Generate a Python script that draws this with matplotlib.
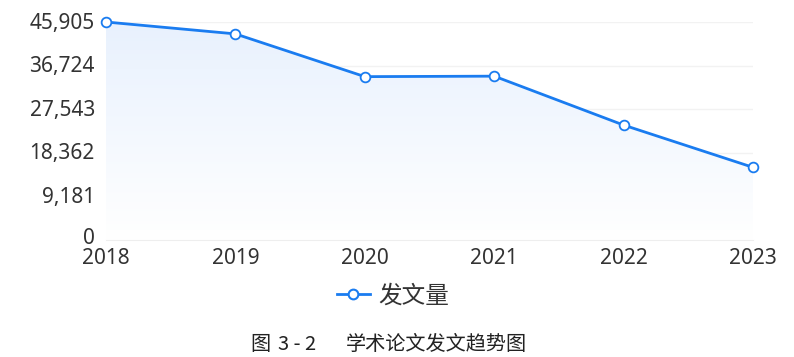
import matplotlib
matplotlib.use("Agg")
import matplotlib.pyplot as plt
import matplotlib.transforms as mtransforms
import numpy as np
from matplotlib.lines import Line2D

plt.rcParams['font.family'] = ['Noto Sans CJK SC', 'DejaVu Sans']

years = ["2018", "2019", "2020", "2021", "2022", "2023"]
papers = [45905, 43400, 34400, 34500, 24200, 15300]
y_ticks = [0, 9181, 18362, 27543, 36724, 45905]
y_tick_labels = ["0", "9,181", "18,362", "27,543", "36,724", "45,905"]

line_color = "#1a7cf0"
text_color = "#333333"

fig = plt.figure(figsize=(7.94, 3.57), dpi=100)
ax = fig.add_axes([106/794, 1 - 240/357, (753 - 106)/794, (240 - 22)/357])

x = np.arange(len(years))

# gradient area under the line: pale blue at the top fading to white
poly = ax.fill_between(x, papers, 0, color="none", lw=0)
top_rgb = np.array([0.91, 0.945, 0.995])
t = np.linspace(1, 0, 256)[:, None, None]
img = (1 - t) * np.array([1.0, 1.0, 1.0]) + t * top_rgb
im = ax.imshow(img, aspect="auto", extent=[x[0], x[-1], 0, max(papers)],
               origin="upper", zorder=1)
im.set_clip_path(poly.get_paths()[0], transform=ax.transData)

ax.plot(x, papers, color=line_color, lw=2.0, marker="o", ms=7,
        mfc="white", mec=line_color, mew=1.3, zorder=3, clip_on=False)

ax.set_xlim(x[0], x[-1])
ax.set_ylim(0, 45905)
ax.set_yticks(y_ticks)
ax.set_yticklabels(y_tick_labels)
ax.set_xticks(x)
ax.set_xticklabels(years)
ax.tick_params(axis="both", length=0, labelsize=15, colors=text_color)
ax.tick_params(axis="y", pad=8)
ax.tick_params(axis="x", pad=6)
for lbl in ax.get_yticklabels() + ax.get_xticklabels():
    lbl.set_fontfamily(['Noto Sans', 'DejaVu Sans'])

# lift the y labels slightly so the bottom "0" clears the year labels
for lbl in ax.get_yticklabels():
    shift = 4 if lbl.get_text() == "0" else 1.5
    lbl.set_transform(lbl.get_transform() +
                      mtransforms.ScaledTranslation(0, shift / 100, fig.dpi_scale_trans))

ax.grid(axis="y", color="#f2f2f2", lw=1.0, zorder=0)
ax.set_axisbelow(True)
for side in ["top", "right", "left"]:
    ax.spines[side].set_visible(False)
ax.spines["bottom"].set_color("#eeeeee")

handle = Line2D([], [], color=line_color, lw=2.0, marker="o", ms=7,
                mfc="white", mec=line_color, mew=1.5)
fig.legend([handle], ["发文量"], loc="center", bbox_to_anchor=(393/794, 1 - 296/357),
           frameon=False, fontsize=17, handlelength=1.4, handletextpad=0.35,
           labelcolor=text_color)

# figure caption
cap_y = 1 - 345/357
cap_kw = dict(va="center", fontsize=14.5, color="#222222", fontweight="light")
fig.text(260/794, cap_y, "图", ha="center", **cap_kw)
fig.text(297/794, cap_y, "3 - 2", ha="center", **cap_kw)
fig.text(346/794, cap_y, "学术论文发文趋势图", ha="left", **cap_kw)

fig.savefig("out.png", dpi=100)
